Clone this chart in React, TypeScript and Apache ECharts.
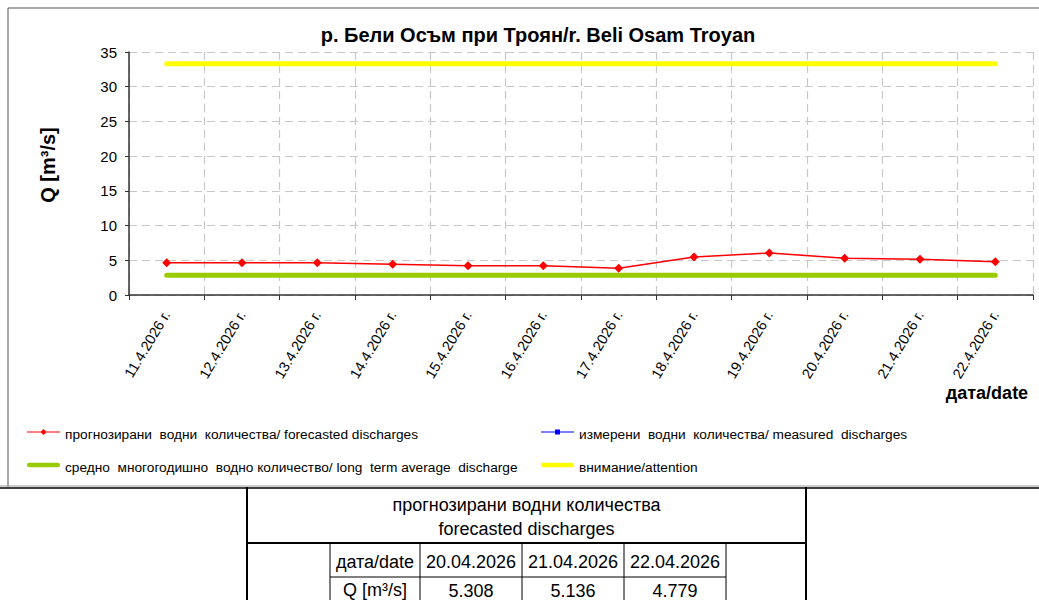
import React, { useEffect, useRef } from "react";
import * as echarts from "echarts";

const categories = [
  "11.4.2026 г.", "12.4.2026 г.", "13.4.2026 г.", "14.4.2026 г.", "15.4.2026 г.", "16.4.2026 г.",
  "17.4.2026 г.", "18.4.2026 г.", "19.4.2026 г.", "20.4.2026 г.", "21.4.2026 г.", "22.4.2026 г.",
];
const forecasted = [4.65, 4.65, 4.65, 4.42, 4.22, 4.22, 3.84, 5.47, 6.05, 5.308, 5.136, 4.779];
const measured: (number | null)[] = [null, null, null, null, null, null, null, null, null, null, null, null];
const averageDischarge = 2.85;
const attentionLevel = 33.3;
const yTicks = [0, 5, 10, 15, 20, 25, 30, 35];

const tableDates = ["20.04.2026", "21.04.2026", "22.04.2026"];
const tableValues = ["5.308", "5.136", "4.779"];

const titleText = "р. Бели Осъм при Троян/r. Beli Osam Troyan";
const nameForecast = "прогнозирани  водни  количества/ forecasted discharges";
const nameMeasured = "измерени  водни  количества/ measured  discharges";
const nameAverage = "средно  многогодишно  водно количество/ long  term average  discharge";
const nameAttention = "внимание/attention";

const FONT = "Liberation Sans, Arial, sans-serif";

// icons: 33x14 boxes (tiny corner points fix the bounding box), marks drawn slightly above centre
const BOX = " M0,0 L0.01,0 L0.01,0.01 Z M33,14 L32.99,14 L32.99,13.99 Z";
const iconForecast = "path://M0,4.4 L33,4.4 L33,5.6 L0,5.6 Z M16.5,2 L19.5,5 L16.5,8 L13.5,5 Z" + BOX;
const iconMeasured = "path://M0,4.4 L33,4.4 L33,5.6 L0,5.6 Z M14,2.5 L19,2.5 L19,7.5 L14,7.5 Z" + BOX;
const iconThick = "path://M2.3,2.7 L30.7,2.7 A2.3,2.3 0 0 1 30.7,7.3 L2.3,7.3 A2.3,2.3 0 0 1 2.3,2.7 Z" + BOX;

export default function App() {
  const ref = useRef<HTMLDivElement>(null);
  useEffect(() => {
    if (!ref.current) return;
    const chart = echarts.init(ref.current, null, { renderer: "svg" });

    const line = (x1: number, y1: number, x2: number, y2: number, color = "#000", w = 1) => ({
      type: "line",
      shape: { x1, y1, x2, y2 },
      style: { stroke: color, lineWidth: w },
      silent: true,
    });
    const text = (t: string, x: number, y: number, font: string, align = "center", rotation = 0) => ({
      type: "text",
      x,
      y,
      rotation,
      style: {
        text: t,
        font,
        fill: "#000",
        align,
        verticalAlign: "middle",
        textAlign: align,
        textVerticalAlign: "middle",
      },
      silent: true,
    });

    // table geometry
    const tL = 247, tR = 806, tTop = 487, hSep = 543, rSep = 577, tBot = 602;
    const colX = [330, 420, 522, 624, 726];
    const tableFont = `18px ${FONT}`;
    const graphics: any[] = [
      // chart frame
      line(8, 8, 1039, 8, "#555", 1),
      line(8, 8, 8, 487, "#555", 1),
      line(0, 486, 1039, 486, "#999", 1),
      line(0, 488, 1039, 488, "#000", 1.5),
      // table
      line(tL, tTop, tL, tBot, "#000", 2),
      line(tR, tTop, tR, tBot, "#000", 2),
      line(tL, hSep, tR, hSep, "#000", 2),
      line(colX[0], rSep, colX[4], rSep, "#000", 1),
      ...colX.map((x) => line(x, hSep, x, tBot, "#000", 1)),
      text("прогнозирани водни количества", (tL + tR) / 2, 505, tableFont),
      text("forecasted discharges", (tL + tR) / 2, 529, tableFont),
      text("дата/date", (colX[0] + colX[1]) / 2, 562, tableFont),
      text("Q [m³/s]", (colX[0] + colX[1]) / 2, 590, tableFont),
      ...tableDates.map((d, i) => text(d, (colX[i + 1] + colX[i + 2]) / 2, 562, tableFont)),
      ...tableValues.map((v, i) => text(v, (colX[i + 1] + colX[i + 2]) / 2, 591, tableFont)),
      // axis names
      text("Q [m³/s]", 48, 165, `bold 20px ${FONT}`, "center", Math.PI / 2),
      text("дата/date", 987, 393, `bold 18px ${FONT}`),
    ];

    const legendText = { fontFamily: FONT, fontSize: 13.7, color: "#000" };

    chart.setOption({
      animation: false,
      backgroundColor: "#fff",
      title: {
        text: titleText,
        left: 533,
        top: 20,
        textAlign: "center",
        textStyle: { fontFamily: FONT, fontWeight: "bold", fontSize: 20, color: "#000" },
      },
      grid: { left: 129, right: 6, top: 52, bottom: 305, containLabel: false },
      legend: [
        {
          orient: "vertical",
          left: 27,
          top: 427,
          padding: 0,
          itemWidth: 33,
          itemHeight: 14,
          itemGap: 19,
          data: [
            { name: nameForecast, icon: iconForecast },
            { name: nameAverage, icon: iconThick },
          ],
          textStyle: legendText,
        },
        {
          orient: "vertical",
          left: 541,
          top: 427,
          padding: 0,
          itemWidth: 33,
          itemHeight: 14,
          itemGap: 19,
          data: [
            { name: nameMeasured, icon: iconMeasured },
            { name: nameAttention, icon: iconThick },
          ],
          textStyle: legendText,
        },
      ],
      xAxis: {
        type: "category",
        data: categories,
        boundaryGap: true,
        axisLine: { lineStyle: { color: "#333", width: 1.5 } },
        axisTick: { show: true, length: 5, lineStyle: { color: "#333" } },
        axisLabel: {
          rotate: 59,
          margin: 17,
          interval: 0,
          fontFamily: FONT,
          fontSize: 14.5,
          color: "#000",
        },
        splitLine: { show: true, lineStyle: { color: "#c8c8c8", type: [8, 5], width: 1.2 } },
      },
      yAxis: {
        type: "value",
        min: yTicks[0],
        max: yTicks[yTicks.length - 1],
        interval: 5,
        axisLine: { show: true, lineStyle: { color: "#333", width: 1.5 } },
        axisTick: { show: true, length: 4, lineStyle: { color: "#333" } },
        axisLabel: { margin: 12, fontFamily: FONT, fontSize: 15, color: "#000" },
        splitLine: { show: true, lineStyle: { color: "#c8c8c8", type: [8, 5], width: 1.2 } },
      },
      series: [
        {
          name: nameForecast,
          type: "line",
          data: forecasted,
          symbol: "diamond",
          symbolSize: 9,
          itemStyle: { color: "#ff0000" },
          lineStyle: { color: "#ff0000", width: 1.5 },
          z: 5,
        },
        {
          name: nameMeasured,
          type: "line",
          data: measured,
          symbol: "rect",
          symbolSize: 7,
          itemStyle: { color: "#0000ff" },
          lineStyle: { color: "#0000ff", width: 1.5 },
        },
        {
          name: nameAverage,
          type: "line",
          data: categories.map(() => averageDischarge),
          symbol: "none",
          lineStyle: { color: "#99cc00", width: 5, cap: "round" },
          itemStyle: { color: "#99cc00" },
        },
        {
          name: nameAttention,
          type: "line",
          data: categories.map(() => attentionLevel),
          symbol: "none",
          lineStyle: { color: "#ffff00", width: 5, cap: "round" },
          itemStyle: { color: "#ffff00" },
        },
      ],
      graphic: graphics,
    });
    return () => chart.dispose();
  }, []);
  return (
    <div
      ref={ref}
      style={{ position: "absolute", left: 0, top: 0, width: 1039, height: 600 }}
    />
  );
}
